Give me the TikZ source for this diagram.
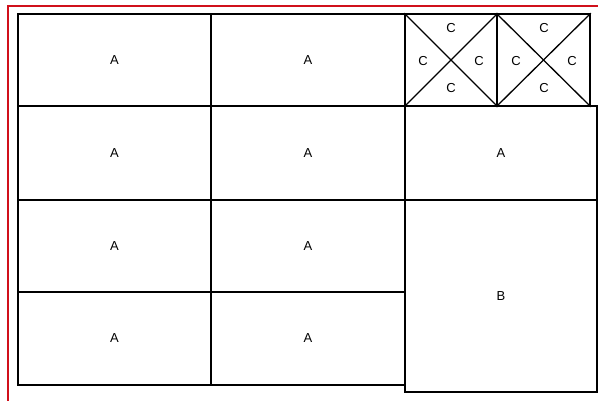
\documentclass[tikz,border=0pt]{standalone}
\usepackage{fontspec}
\setmainfont{Liberation Sans}
\usetikzlibrary{positioning,calc}
\definecolor{frame}{HTML}{D0101B}

\begin{document}
\begin{tikzpicture}[x=1pt,y=-1pt,
  cell/.style={draw,line width=1.6pt,minimum width=#1,inner sep=0pt,font=\fontsize{13}{15}\selectfont},
  cell/.default=193pt,
  lbl/.style={inner sep=0pt,font=\fontsize{13}{15}\selectfont},
]
  \useasboundingbox (0,0) rectangle (598,401);
  % red frame on two sides
  \draw[frame,line width=1.3pt] (8,401) -- (8,6) -- (598,6);

  % left two columns
  \node[cell,minimum height=92pt] (a11) at (114.5,60) {A};
  \node[cell=194pt,minimum height=92pt] (a12) at (308,60) {A};
  \node[cell,minimum height=94pt] (a21) at (114.5,153) {A};
  \node[cell=194pt,minimum height=94pt] (a22) at (308,153) {A};
  \node[cell,minimum height=92pt] (a31) at (114.5,246) {A};
  \node[cell=194pt,minimum height=92pt] (a32) at (308,246) {A};
  \node[cell,minimum height=93pt] (a41) at (114.5,338.5) {A};
  \node[cell=194pt,minimum height=93pt] (a42) at (308,338.5) {A};

  % right column
  \node[cell=92pt,minimum height=92pt] (c1) at (451,60) {};
  \node[cell=93pt,minimum height=92pt] (c2) at (543.5,60) {};
  \node[cell=192pt,minimum height=94pt] (a23) at (501,153) {A};
  \node[cell=192pt,minimum height=192pt] (b) at (501,296) {B};

  % crosses
  \foreach \c in {c1,c2} {
    \draw[line width=1.3pt] (\c.north west) -- (\c.south east);
    \draw[line width=1.3pt] (\c.south west) -- (\c.north east);
  }
  \node[lbl] (c1t) at (451,28) {C};
  \node[lbl] (c1l) at (423,61) {C};
  \node[lbl] (c1r) at (479,61) {C};
  \node[lbl] (c1b) at (451,88) {C};
  \node[lbl] (c2t) at (544,28) {C};
  \node[lbl] (c2l) at (516,61) {C};
  \node[lbl] (c2r) at (572,61) {C};
  \node[lbl] (c2b) at (544,88) {C};
\end{tikzpicture}
\end{document}
